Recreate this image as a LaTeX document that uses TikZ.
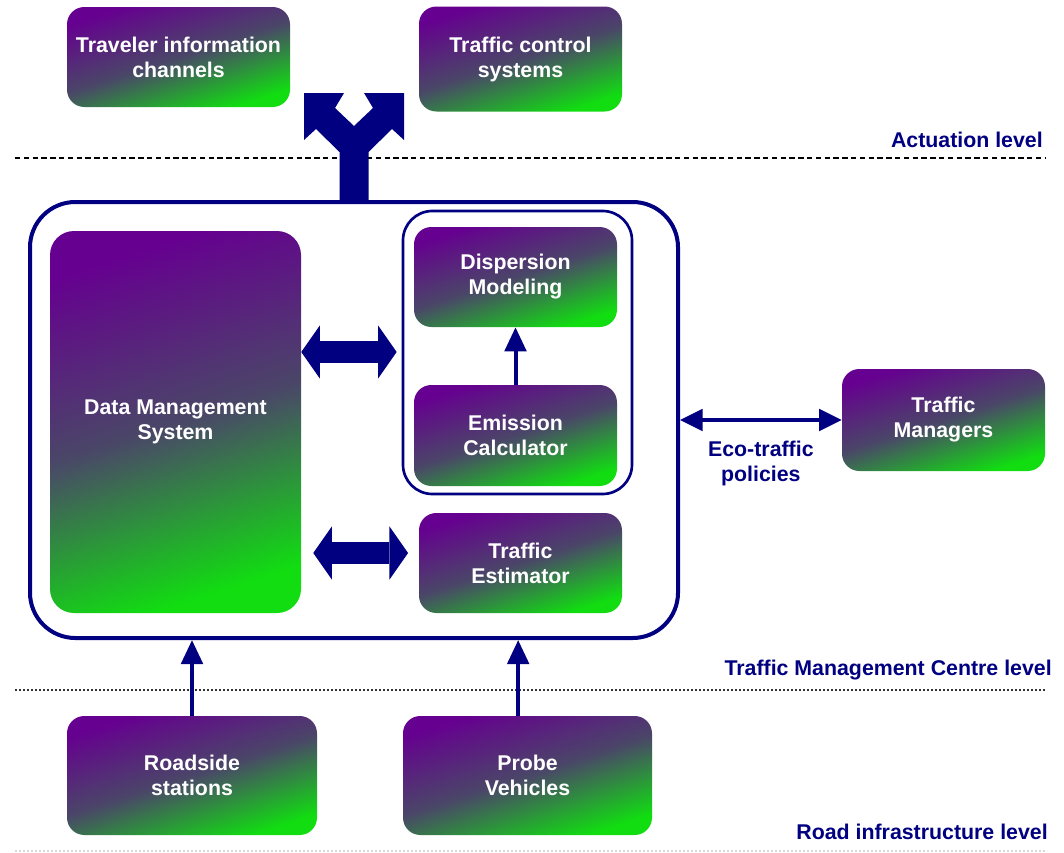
\documentclass[tikz,border=0pt]{standalone}
\usepackage{fontspec}
\setmainfont{Liberation Sans}
\usetikzlibrary{arrows.meta,positioning}

\definecolor{navy}{RGB}{0,0,128}
\definecolor{prp}{RGB}{102,0,144}
\definecolor{slate}{RGB}{74,70,104}
\definecolor{grn}{RGB}{17,221,17}

\tikzset{
  txt/.style={font=\bfseries\fontsize{16}{18.75}\selectfont, align=center, inner sep=0pt},
  gbox/.style={txt, rounded corners=13pt, top color=prp, bottom color=grn, middle color=slate, shading angle=18, text=white},
  lvl/.style={txt, anchor=east, text=navy},
  frame/.style={draw=navy, rounded corners=#1},
  upline/.style={navy, line width=3pt, -{Triangle[width=16pt,length=18pt]}},
  ecoline/.style={navy, line width=3pt, {Triangle[width=16pt,length=17pt]}-{Triangle[width=16pt,length=17pt]}},
  blk/.style={navy, line width=16pt, {Triangle[width=40pt,length=14pt,line width=0pt]}-{Triangle[width=40pt,length=14pt,line width=0pt]}}
}

\begin{document}
\begin{tikzpicture}[x=0.75pt,y=-0.75pt]
\useasboundingbox (0,0) rectangle (1064,853);

% level lines
\draw[line width=1.8pt, dash pattern=on 4pt off 2.6pt] (15,158) -- (1045,158);
\draw[line width=1.5pt, black!80, dash pattern=on 1.5pt off 1.5pt] (15,690) -- (1045,690);
\draw[line width=1.5pt, black!15, dash pattern=on 1.5pt off 1.5pt] (15,851) -- (1045,851);
\node[lvl] (lact) at (1043,140) {Actuation level};
\node[lvl] (ltmc) at (1052,670) {Traffic Management Centre level};
\node[lvl] (lroad) at (1048,832) {Road infrastructure level};

% centre frames
\node[frame=34pt, line width=3pt, minimum width=486pt, minimum height=327pt] (tmc) at (354,420) {};
\node[frame=22pt, line width=2pt, minimum width=171.75pt, minimum height=212.25pt] (grp) at (517.5,352.5) {};

% boxes
\node[gbox, minimum width=167.25pt, minimum height=75pt] (tinfo) at (178.5,57) {Traveler information\\channels};
\node[gbox, minimum width=152.25pt, minimum height=78.75pt] (tctrl) at (520.5,59) {Traffic control\\systems};
\node[gbox, rounded corners=18pt, minimum width=188.25pt, minimum height=286.5pt] (dms) at (175.5,422) {Data Management\\System};
\node[gbox, minimum width=152.25pt, minimum height=75pt] (disp) at (515.5,277) {Dispersion\\Modeling};
\node[gbox, minimum width=152.25pt, minimum height=75.75pt] (emis) at (515.5,435.5) {Emission\\Calculator};
\node[gbox, minimum width=152.25pt, minimum height=75pt] (test) at (520.5,563) {Traffic\\Estimator};
\node[gbox, minimum width=152.25pt, minimum height=76.5pt] (tman) at (943.5,420) {Traffic\\Managers};
\node[gbox, minimum width=187.5pt, minimum height=89.25pt] (road) at (192,775.5) {Roadside\\stations};
\node[gbox, minimum width=186.75pt, minimum height=89.25pt] (probe) at (527.5,775.5) {Probe\\Vehicles};

% fork to actuation
\begin{scope}[shift={(tmc.north)}]
\fill[navy] (-14.5,0) -- (-14.5,-48) -- (-38,-71) -- (-50,-60) -- (-50,-107) -- (-10,-107)
  -- (-19,-92) -- (0,-74) -- (19,-92) -- (10,-107) -- (50,-107) -- (50,-60) -- (38,-71)
  -- (14.5,-48) -- (14.5,0) -- cycle;
\end{scope}

% connectors
\draw[blk] (dms.east |- 0,352) -- ([xshift=-3.75pt]grp.west |- 0,352);
\draw[blk] ([xshift=9pt]dms.east |- 0,553) -- ([xshift=-8pt]test.west |- 0,553);
\draw[upline] (emis) -- (disp);
\draw[upline] (road) -- (road |- tmc.south);
\draw[upline] ([xshift=-7pt]probe.north) -- ([xshift=-7pt]probe.north |- tmc.south);
\draw[ecoline] (tmc.east) -- node[txt, text=navy, below=14pt] (eco) {Eco-traffic\\policies} (tman.west);
\end{tikzpicture}
\end{document}
